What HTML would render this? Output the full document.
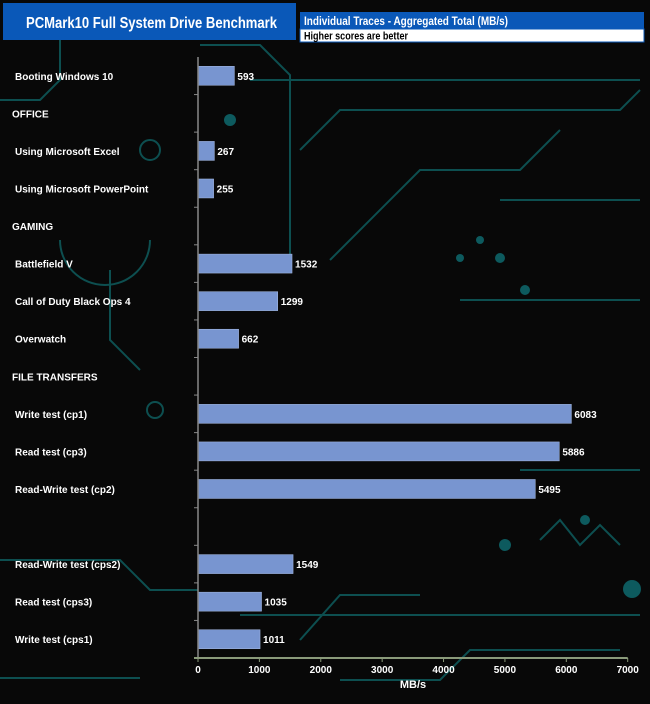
<!DOCTYPE html>
<html><head><meta charset="utf-8"><style>
body{margin:0;width:650px;height:704px;background:#080808;overflow:hidden;font-family:"Liberation Sans",Arial,sans-serif}
svg{display:block}
</style></head><body>
<svg width="650" height="704">
<g stroke="#0d4f50" stroke-width="2" fill="none">
<path d="M0 100 L40 100 L60 80 L60 40"/>
<path d="M200 45 L260 45 L290 75 L290 260"/>
<path d="M300 150 L340 110 L620 110 L640 90"/>
<path d="M250 80 L640 80"/>
<path d="M330 260 L420 170 L520 170 L560 130"/>
<path d="M0 560 L120 560 L150 590 L198 590"/>
<path d="M240 615 L640 615"/>
<path d="M300 640 L340 595 L420 595"/>
<path d="M340 680 L440 680 L470 650 L620 650"/>
<path d="M0 678 L140 678"/>
<path d="M540 540 L560 520 L580 545 L600 525 L620 545"/>
<path d="M110 270 L110 340 L140 370"/>
<path d="M500 200 L640 200"/>
<path d="M60 240 A45 45 0 1 0 150 240"/>
<path d="M520 470 L640 470"/>
<path d="M460 300 L640 300"/>
<circle cx="155" cy="410" r="8"/>
<circle cx="150" cy="150" r="10"/>
</g>
<g fill="#0d5a5e">
<circle cx="632" cy="589" r="9"/><circle cx="505" cy="545" r="6"/><circle cx="585" cy="520" r="5"/>
<circle cx="480" cy="240" r="4"/><circle cx="500" cy="258" r="5"/><circle cx="460" cy="258" r="4"/>
<circle cx="525" cy="290" r="5"/><circle cx="230" cy="120" r="6"/>
</g>
<rect x="3" y="3" width="293" height="37" fill="#0a58b8"/>
<text x="26" y="28" fill="#fff" font-size="16" font-weight="bold" textLength="251" lengthAdjust="spacingAndGlyphs">PCMark10 Full System Drive Benchmark</text>
<rect x="300" y="12" width="344" height="17" fill="#0a58b8"/>
<text x="304" y="25" fill="#fff" font-size="12" font-weight="bold" textLength="204" lengthAdjust="spacingAndGlyphs">Individual Traces - Aggregated Total (MB/s)</text>
<rect x="300" y="29" width="344" height="13" fill="#fff" stroke="#0a58b8"/>
<text x="304" y="39.5" fill="#000" font-size="11" font-weight="bold" textLength="104" lengthAdjust="spacingAndGlyphs">Higher scores are better</text>
<g id="plot"></g>
</svg>
<script>
const categories=["Booting Windows 10","OFFICE","Using Microsoft Excel","Using Microsoft PowerPoint","GAMING","Battlefield V","Call of Duty Black Ops 4","Overwatch","FILE TRANSFERS","Write test (cp1)","Read test (cp3)","Read-Write test (cp2)","","Read-Write test (cps2)","Read test (cps3)","Write test (cps1)"];
const values=[593,null,267,255,null,1532,1299,662,null,6083,5886,5495,null,1549,1035,1011];
const ticks=[0,1000,2000,3000,4000,5000,6000,7000];
const NS="http://www.w3.org/2000/svg";
const g=document.getElementById('plot');
const x0=198,x1=627.7,maxV=7000,yTop=57,yBot=658;
const xs=v=>x0+(x1-x0)*v/maxV;
const step=(yBot-yTop)/categories.length;
const yc=i=>yTop+step*(i+0.5);
function mk(t,a){const e=document.createElementNS(NS,t);for(const k in a)e.setAttribute(k,a[k]);g.appendChild(e);return e;}
categories.forEach((c,i)=>{
 const y=yc(i);
 if(c){const t=mk('text',{x:values[i]===null?12:15,y:y+4,fill:'#fff','font-size':10,'font-weight':'bold'});t.textContent=c;
 
 }
 if(values[i]!=null){
  const r=mk('rect',{x:x0,y:y-9.5,width:xs(values[i])-x0,height:19,fill:'#7895d0',stroke:'#a9bde6','stroke-width':0.5});
  
  
  const t=mk('text',{x:xs(values[i])+3,y:y+4,fill:'#fff','font-size':10,'font-weight':'bold'});t.textContent=values[i];
  
  
 }
 const tk=mk('line',{x1:x0-4,x2:x0,y1:yTop+step*(i+1),y2:yTop+step*(i+1),stroke:'#888'});
 
 
});
const ya=mk('line',{x1:x0,x2:x0,y1:yTop,y2:yBot,stroke:'#888','stroke-width':1.5});


const xa=mk('line',{x1:x0-4,x2:x1,y1:yBot,y2:yBot,stroke:'#8a9a7a','stroke-width':2});


ticks.forEach(v=>{
 const l=mk('line',{x1:xs(v),x2:xs(v),y1:yBot,y2:yBot+4,stroke:'#8a9a7a'});
 
 
 const t=mk('text',{x:xs(v),y:yBot+15,fill:'#fff','font-size':10,'font-weight':'bold','text-anchor':'middle'});t.textContent=v;
 
 
});
const xt=mk('text',{x:413,y:688,fill:'#fff','font-size':11,'font-weight':'bold','text-anchor':'middle'});xt.textContent='MB/s';


</script>
</body></html>
